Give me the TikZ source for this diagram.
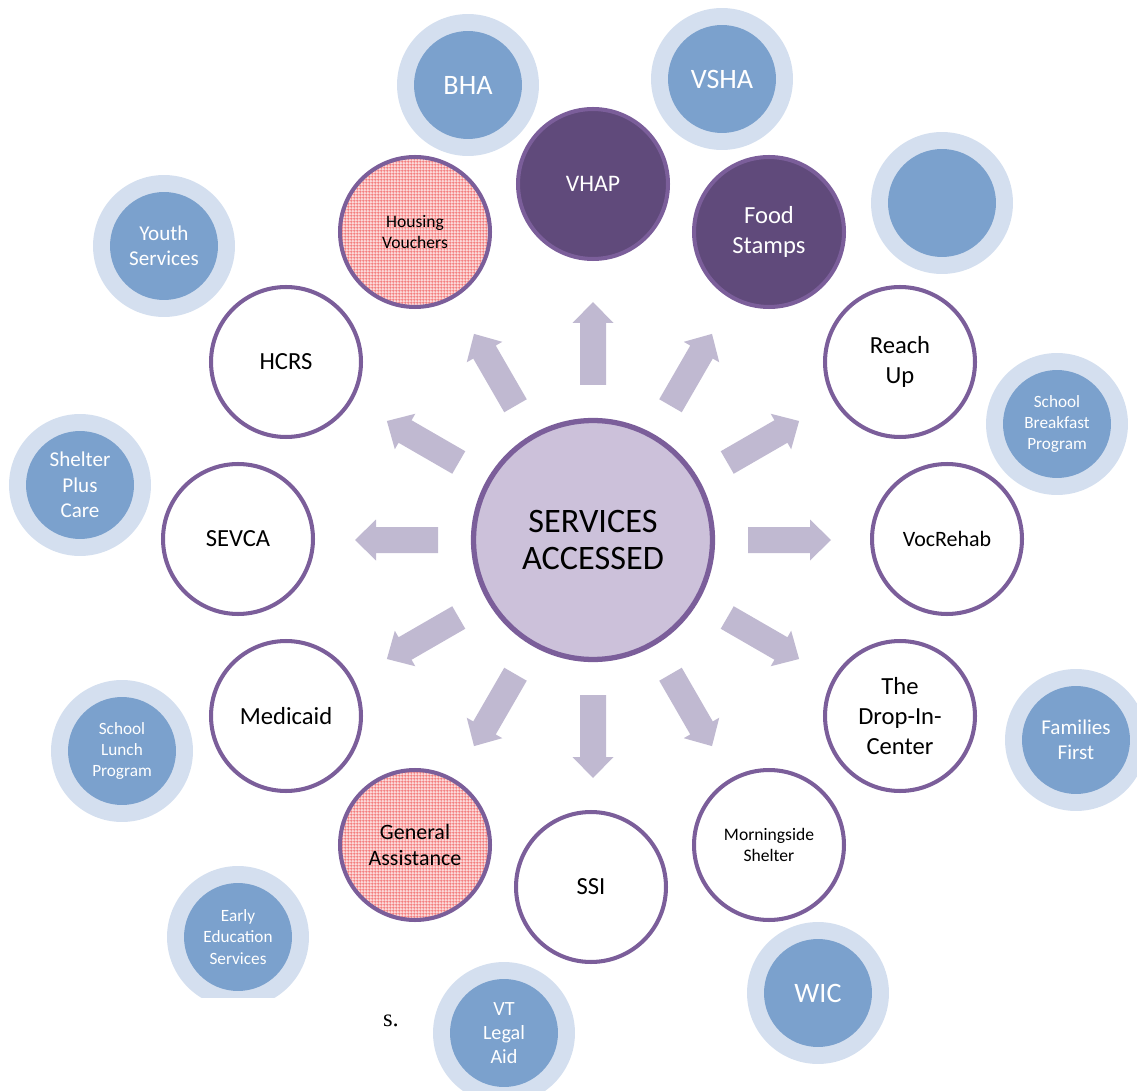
\documentclass[tikz,border=0pt]{standalone}
\usepackage{fontspec}
\setmainfont{Carlito}
\newfontfamily\serifx{Liberation Serif}
\usetikzlibrary{patterns.meta}
\definecolor{pborder}{HTML}{7B5E9A}
\definecolor{darkp}{HTML}{604A7B}
\definecolor{centerc}{HTML}{CCC1DA}
\definecolor{arrowc}{HTML}{C0B9D1}
\definecolor{ringc}{HTML}{D4DFEF}
\definecolor{bluec}{HTML}{7BA1CD}
\definecolor{pinkbase}{HTML}{FCDCDC}
\definecolor{hatchred}{HTML}{F27272}
\tikzdeclarepattern{
  name=finegrid,
  type=uncolored,
  bounding box={(0,0) and (1.8pt,1.8pt)},
  tile size={(1.8pt,1.8pt)},
  code={
    \draw[line width=0.4pt] (0,0.9pt) -- (1.8pt,0.9pt);
    \draw[line width=0.4pt] (0.9pt,0) -- (0.9pt,1.8pt);
  }
}
\tikzset{
  outer/.style={circle, draw=pborder, line width=2.3pt, minimum size=3cm, inner sep=0pt,
    fill=white, align=center, font=\fontsize{14}{17}\selectfont},
  darkc/.style={outer, fill=darkp, text=white},
  hatchc/.style={outer, fill=none, preaction={fill=pinkbase}, pattern=finegrid, pattern color=hatchred},
  ring/.style={circle, fill=ringc, minimum size=2.84cm, inner sep=0pt},
  bluedot/.style={circle, fill=bluec, minimum size=2.16cm, inner sep=0pt, text=white, align=center,
    font=\fontsize{12}{14.5}\selectfont},
  smalltxt/.style={font=\fontsize{9.8}{12}\selectfont},
  bigtxt/.style={font=\fontsize{16}{19}\selectfont},
}
\begin{document}
\begin{tikzpicture}[x=0.02cm,y=-0.02cm]
\useasboundingbox (0,0) rectangle (1137,1091);
% blue satellite circles
\node[ring] (bhar) at (468,85) {};
\node[bluedot,bigtxt] (bha) at (468,85) {BHA};
\node[ring] (vshar) at (722,79) {};
\node[bluedot,bigtxt] (vsha) at (722,79) {VSHA};
\node[ring] (emptyr) at (942,203) {};
\node[bluedot] (empty) at (942,203) {};
\node[ring] (youthr) at (164,246) {};
\node[bluedot] (youth) at (164,246) {Youth\\Services};
\node[ring] (sbpr) at (1057,424) {};
\node[bluedot,smalltxt] (sbp) at (1057,424) {School\\Breakfast\\Program};
\node[ring] (spcr) at (80,485) {};
\node[bluedot] (spc) at (80,485) {Shelter\\Plus\\Care};
\node[ring] (ffr) at (1076,740) {};
\node[bluedot] (ff) at (1076,740) {Families\\First};
\node[ring] (slpr) at (122,751) {};
\node[bluedot,smalltxt] (slp) at (122,751) {School\\Lunch\\Program};
\begin{scope}
\clip (0,0) rectangle (1137,997);
\node[ring] (eesr) at (238,937) {};
\node[bluedot,smalltxt] (ees) at (238,937) {Early\\Education\\Services};
\end{scope}
\node[ring] (vtr) at (504,1033) {};
\node[bluedot,font=\fontsize{11.5}{13.8}\selectfont] (vt) at (504,1033) {VT\\Legal\\Aid};
\node[ring] (wicr) at (818,993) {};
\node[bluedot,bigtxt] (wic) at (818,993) {WIC};
% arrows
\begin{scope}[shift={(593,540)}]
\foreach \a in {0,30,...,330}{
  \fill[arrowc, rotate=\a] (155,-13) -- (217,-13) -- (217,-20.5) -- (238,0) -- (217,20.5) -- (217,13) -- (155,13) -- cycle;
}
\end{scope}
% center
\node[circle, draw=pborder, line width=3pt, fill=centerc, minimum size=4.78cm, inner sep=0pt,
  align=center, font=\fontsize{19.5}{21.5}\selectfont] (center) at (593,540) {SERVICES\\ACCESSED};
% ring of services
\node[outer] (hcrs) at (286,362) {HCRS};
\node[hatchc, font=\fontsize{10}{11.5}\selectfont] (hv) at (415,232) {Housing\\Vouchers};
\node[darkc, font=\fontsize{13.5}{16}\selectfont] (vhap) at (593,184) {VHAP};
\node[darkc] (fs) at (769,232) {Food\\Stamps};
\node[outer] (ru) at (900,362) {Reach\\Up};
\node[outer, font=\fontsize{12.5}{15}\selectfont] (vr) at (947,539) {VocRehab};
\node[outer] (dic) at (900,716) {The\\Drop-In-\\Center};
\node[outer, font=\fontsize{10}{12}\selectfont] (ms) at (769,845) {Morningside\\Shelter};
\node[outer] (ssi) at (591,887) {SSI};
\node[hatchc, font=\fontsize{12.5}{15}\selectfont] (ga) at (415,845) {General\\Assistance};
\node[outer] (med) at (286,716) {Medicaid};
\node[outer] (sevca) at (238,539) {SEVCA};
\node[font=\serifx\fontsize{14}{16}\selectfont] (frag) at (391,1021) {s.};
\end{tikzpicture}
\end{document}
